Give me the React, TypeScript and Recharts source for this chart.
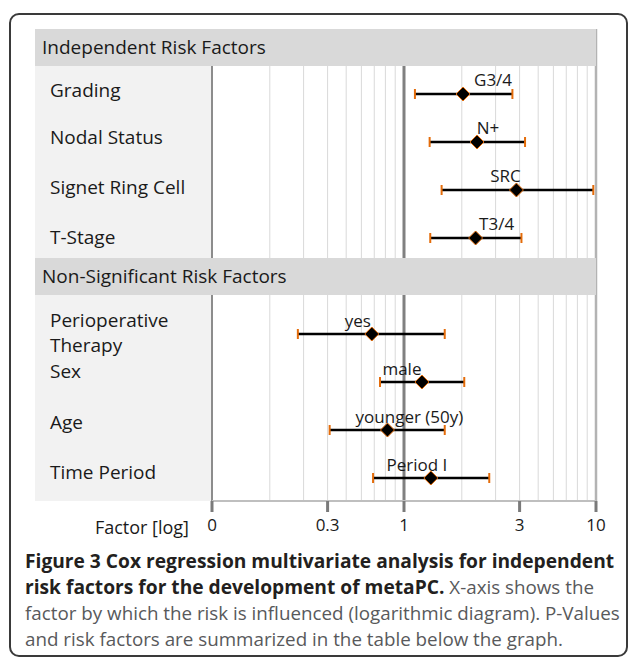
import { ComposedChart, Scatter, XAxis, YAxis, ReferenceLine, Label } from "recharts";

const sectionTitles = ["Independent Risk Factors", "Non-Significant Risk Factors"];
const sectionSizes = [4, 4];

const categories = [
  "Grading",
  "Nodal Status",
  "Signet Ring Cell",
  "T-Stage",
  "Perioperative\nTherapy",
  "Sex",
  "Age",
  "Time Period",
];
const pointLabels = ["G3/4", "N+", "SRC", "T3/4", "yes", "male", "younger (50y)", "Period I"];
const hazardRatio = [2.03, 2.4, 3.85, 2.36, 0.68, 1.24, 0.82, 1.38];
const ciLower = [1.14, 1.36, 1.57, 1.37, 0.28, 0.75, 0.41, 0.69];
const ciUpper = [3.67, 4.27, 9.68, 4.09, 1.63, 2.06, 1.63, 2.78];

const xTicks = [0.1, 0.4, 1, 4, 10];
const xTickLabels = ["0", "0.3", "1", "3", "10"];
const minorGrid = [0.2, 0.3, 0.4, 0.5, 0.6, 0.7, 0.8, 0.9, 2, 3, 4, 5, 6, 7, 8, 9];

// layout only
const labelShiftX = [30, 11, -11, 21, -14, -20, 22, -14];
const nameShiftY = [-4, -5, -3, -1, -2, -11, -8, -6];

const PLOT_TOP = 29;
const UNIT = 48;
const Y_MAX = 9.833;
const HEADER_H = 0.77;

const rowY = (i: number) => i + 1.354 + (i >= sectionSizes[0] ? 1 : 0);
const sectionStart = [0, 4.77];

const rows = categories.map((name, i) => ({
  i,
  name,
  label: pointLabels[i],
  x: hazardRatio[i],
  lo: ciLower[i],
  hi: ciUpper[i],
  y: rowY(i),
}));

const ORANGE = "#e46c0a";
const FONT = "'Open Sans', sans-serif";
const INK = "#1a1a1a";

const Cap = (props: any) => {
  const { cx, cy } = props;
  return <line x1={cx} x2={cx} y1={cy - 5} y2={cy + 5} stroke={ORANGE} strokeWidth={2} />;
};

const Diamond = (props: any) => {
  const { cx, cy, payload } = props;
  const r = 7;
  return (
    <g>
      <polygon
        points={`${cx},${cy - r} ${cx + r},${cy} ${cx},${cy + r} ${cx - r},${cy}`}
        fill="#000"
        stroke={ORANGE}
        strokeWidth={1}
      />
      <text
        x={cx + labelShiftX[payload.i]}
        y={cy - 14}
        textAnchor="middle"
        dominantBaseline="central"
        fontSize={17}
        fontFamily={FONT}
        fill={INK}
      >
        {payload.label}
      </text>
    </g>
  );
};

const RowTick = (props: any) => {
  const { y, index } = props;
  const row = rows[index];
  if (!row) return null;
  const lines = row.name.split("\n");
  const cy = y + nameShiftY[index];
  return (
    <text x={50} y={cy} fontSize={19} fontFamily={FONT} fill={INK} textAnchor="start">
      {lines.map((t, k) => (
        <tspan key={k} x={50} y={cy + (k - (lines.length - 1) / 2) * 25} dominantBaseline="central">
          {t}
        </tspan>
      ))}
    </text>
  );
};

export default function App() {
  return (
    <div style={{ position: "absolute", left: 0, top: 0, width: 629, height: 658, overflow: "hidden", background: "#fff", fontFamily: FONT }}>
      <div
        style={{
          position: "absolute",
          left: 9,
          top: 13,
          width: 619,
          height: 644,
          boxSizing: "border-box",
          border: "2px solid #3a3a3a",
          borderRadius: 10,
        }}
      />
      <div
        style={{
          position: "absolute",
          left: 35,
          top: PLOT_TOP + HEADER_H * UNIT,
          width: 177,
          height: (Y_MAX - HEADER_H) * UNIT,
          background: "#f2f2f2",
        }}
      />
      <div style={{ position: "absolute", left: 0, top: 0 }}>
        <ComposedChart width={629} height={555} margin={{ top: PLOT_TOP, right: 33, bottom: 0, left: 0 }}>
          <XAxis
            type="number"
            dataKey="x"
            scale="log"
            domain={[0.1, 10]}
            allowDataOverflow
            ticks={xTicks}
            interval={0}
            tickFormatter={(v: number) => xTickLabels[xTicks.indexOf(v)]}
            tick={{ fill: INK, fontSize: 17, fontFamily: FONT }}
            tickLine={{ stroke: "#7a7a7a", strokeWidth: 3 }}
            tickSize={11}
            tickMargin={7}
            axisLine={{ stroke: "#bfbfbf", strokeWidth: 2 }}
            height={54}
          >
            <Label value="Factor [log]" position="left" offset={23} fill={INK} fontSize={18} fontFamily={FONT} />
          </XAxis>
          <YAxis
            type="number"
            dataKey="y"
            domain={[0, Y_MAX]}
            reversed
            ticks={rows.map((r) => r.y)}
            interval={0}
            width={212}
            axisLine={false}
            tickLine={false}
            tick={RowTick}
          />
          {minorGrid.map((v) => (
            <ReferenceLine key={v} x={v} stroke="#d9d9d9" strokeWidth={1} />
          ))}
          <ReferenceLine x={0.1} stroke="#8c8c8c" strokeWidth={2} />
          <ReferenceLine x={10} stroke="#b3b3b3" strokeWidth={2.5} />
          <ReferenceLine x={1} stroke="#808080" strokeWidth={3} />
          {rows.map((r) => (
            <Scatter
              key={`ci-${r.i}`}
              data={[
                { x: r.lo, y: r.y },
                { x: r.hi, y: r.y },
              ]}
              line={{ stroke: "#000", strokeWidth: 2.5 }}
              shape={Cap}
              isAnimationActive={false}
            />
          ))}
          <Scatter data={rows} shape={Diamond} isAnimationActive={false} />
        </ComposedChart>
      </div>
      {sectionTitles.map((t, k) => (
        <div
          key={t}
          style={{
            position: "absolute",
            left: 35,
            top: PLOT_TOP + sectionStart[k] * UNIT,
            width: 561,
            height: HEADER_H * UNIT,
            lineHeight: `${HEADER_H * UNIT}px`,
            background: "#d9d9d9",
            fontSize: 19,
            color: INK,
            paddingLeft: 7,
            boxSizing: "border-box",
            whiteSpace: "nowrap",
          }}
        >
          {t}
        </div>
      ))}
      <div style={{ position: "absolute", left: 25, top: 548, fontSize: 18.8, lineHeight: "26px", color: "#58595b", whiteSpace: "nowrap" }}>
        <div style={{ fontWeight: 700, color: "#231f20", fontSize: 19.2 }}>Figure 3 Cox regression multivariate analysis for independent</div>
        <div>
          <span style={{ fontWeight: 700, color: "#231f20", fontSize: 19.2 }}>risk factors for the development of metaPC.</span> X-axis shows the
        </div>
        <div>factor by which the risk is influenced (logarithmic diagram). P-Values</div>
        <div>and risk factors are summarized in the table below the graph.</div>
      </div>
    </div>
  );
}
